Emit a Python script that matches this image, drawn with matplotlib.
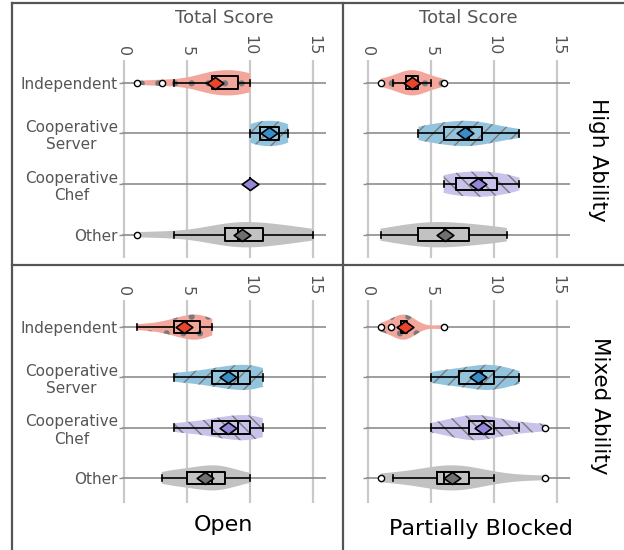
import numpy as np
import matplotlib.pyplot as plt
from matplotlib.lines import Line2D
from matplotlib.path import Path

plt.rcParams["font.family"] = "DejaVu Sans"
plt.rcParams["hatch.linewidth"] = 1.0

CATEGORIES = ["Independent", "Cooperative\nServer", "Cooperative\nChef", "Other"]
VIOLIN_COLORS = ["#f3a79c", "#93c4de", "#c9c2ea", "#c2c2c2"]
MEAN_COLORS = ["#e8452c", "#3a8ec8", "#9486d8", "#6f6f6f"]
HATCHES = [".", "//", "\\\\", ""]
HATCH_WIDTHS = [2.0, 1.0, 1.0, 1.0]
HATCH_COLOR = "#7a7a7a"
TEXT_GREY = "#555555"

# total scores per strategy: Independent, Coop Server, Coop Chef, Other
HIGH_OPEN = [
    [1, 3, 4, 6, 7, 7, 7, 7, 7, 8, 9, 9, 9, 9, 10, 10, 10],
    [10, 11, 12, 13],
    [10],
    [1, 4, 8, 8, 8, 9, 9, 11, 11, 11, 13, 14, 15],
]
HIGH_BLOCKED = [
    [1, 2, 3, 3, 3, 4, 4, 4, 5, 6],
    [4, 5, 6, 7, 8, 8, 9, 10, 12],
    [6, 6, 7, 7, 8, 9, 9, 9, 10, 11, 11, 12],
    [1, 3, 4, 5, 6, 7, 8, 10, 11],
]
MIXED_OPEN = [
    [1, 3, 4, 5, 5, 6, 6, 6, 7],
    [4, 5, 7, 7, 8, 9, 9, 10, 10, 11, 11],
    [4, 5, 7, 7, 8, 9, 9, 10, 10, 11, 11],
    [3, 4, 5, 6, 7, 7, 8, 8, 10],
]
MIXED_BLOCKED = [
    [1, 1.8, 2.6, 2.8, 3, 3, 3.1, 3.1, 6],
    [5, 6, 7, 8, 9, 9, 10, 10, 11, 12],
    [5, 7, 8, 8, 9, 9, 10, 12, 14],
    [1, 2, 5, 6, 6, 6, 7, 8, 8, 10, 14],
]
X_TICKS = [0, 5, 10, 15]

DIAMOND = Path([(-1, 0), (0, 0.72), (1, 0), (0, -0.72), (-1, 0)],
               [Path.MOVETO, Path.LINETO, Path.LINETO, Path.LINETO, Path.CLOSEPOLY])

W, H = 624, 550


def draw_panel(ax, groups, show_labels, show_title, ylim):
    positions = np.arange(len(groups))
    for pos, scores, face, hatch, hlw in zip(positions, groups, VIOLIN_COLORS,
                                              HATCHES, HATCH_WIDTHS):
        if len(set(scores)) < 2:
            continue
        with plt.rc_context({"hatch.linewidth": hlw}):
            parts = ax.violinplot([scores], positions=[pos], orientation="horizontal",
                                  widths=0.5, showextrema=False)
        body = parts["bodies"][0]
        body.set_alpha(1)
        body.set_facecolor(face)
        body.set_edgecolor(HATCH_COLOR)
        body.set_linewidth(0)
        body.set_hatch(hatch)
        body.set_zorder(2)

    ax.boxplot(groups, positions=positions, orientation="horizontal", widths=0.25,
               manage_ticks=False, zorder=3,
               boxprops=dict(color="black", linewidth=1.4),
               medianprops=dict(color="black", linewidth=1.4),
               whiskerprops=dict(color="black", linewidth=1.2),
               capprops=dict(color="black", linewidth=1.2),
               flierprops=dict(marker="o", markersize=4.5, markerfacecolor="white",
                               markeredgecolor="black", markeredgewidth=1.0))

    for pos, scores, col in zip(positions, groups, MEAN_COLORS):
        ax.plot(np.mean(scores), pos, marker=DIAMOND, markersize=12, markerfacecolor=col,
                markeredgecolor="black", markeredgewidth=1.2, zorder=5)

    ax.set_xlim(-0.15, 16)
    ax.set_ylim(*ylim)
    ax.set_xticks(X_TICKS)
    ax.set_yticks(positions)
    ax.set_yticklabels(CATEGORIES if show_labels else [])
    for lbl in ax.get_yticklabels():
        lbl.set_multialignment("center")
    ax.xaxis.tick_top()
    ax.tick_params(axis="x", length=0, pad=3, labelsize=11.5, labelcolor=TEXT_GREY,
                   labelrotation=-90)
    ax.tick_params(axis="y", length=2, width=1, color="#8e8e8e", pad=1,
                   labelsize=11, labelcolor=TEXT_GREY)
    ax.set_axisbelow(True)
    ax.xaxis.grid(True, color="#c9c9c9", linewidth=1.6)
    ax.yaxis.grid(True, color="#8e8e8e", linewidth=1.2)
    for sp in ax.spines.values():
        sp.set_visible(False)
    if show_title:
        ax.xaxis.set_label_position("top")
        ax.set_xlabel("Total Score", fontsize=13, color=TEXT_GREY, labelpad=9)


fig = plt.figure(figsize=(W / 100, H / 100), dpi=100)

left_x, right_x, ax_w = 122 / W, 366 / W, 204 / W
top_y, top_h = 1 - 258 / H, 198 / H
bot_y, bot_h = 1 - 503 / H, 203 / H

ax_tl = fig.add_axes([left_x, top_y, ax_w, top_h])
ax_tr = fig.add_axes([right_x, top_y, ax_w, top_h])
ax_bl = fig.add_axes([left_x, bot_y, ax_w, bot_h])
ax_br = fig.add_axes([right_x, bot_y, ax_w, bot_h])

draw_panel(ax_tl, HIGH_OPEN, True, True, (3.46, -0.45))
draw_panel(ax_tr, HIGH_BLOCKED, False, True, (3.46, -0.45))
draw_panel(ax_bl, MIXED_OPEN, True, False, (3.5, -0.54))
draw_panel(ax_br, MIXED_BLOCKED, False, False, (3.5, -0.54))

# column / row captions
fig.text(223 / W, 1 - 525 / H, "Open", ha="center", va="center", fontsize=16)
fig.text(481 / W, 1 - 529 / H, "Partially Blocked", ha="center", va="center", fontsize=16)
fig.text(598 / W, 1 - 160 / H, "High Ability", ha="center", va="center", rotation=-90,
         fontsize=15.5)
fig.text(600 / W, 1 - 406 / H, "Mixed Ability", ha="center", va="center", rotation=-90,
         fontsize=15.5)

# panel frame lines
frame = dict(color="#555555", linewidth=1.6, transform=fig.transFigure)
fig.add_artist(Line2D([12 / W, 1], [1 - 3 / H, 1 - 3 / H], **frame))
fig.add_artist(Line2D([12 / W, 1], [1 - 265 / H, 1 - 265 / H], **frame))
fig.add_artist(Line2D([12 / W, 12 / W], [0, 1 - 3 / H], **frame))
fig.add_artist(Line2D([343 / W, 343 / W], [0, 1 - 3 / H], **frame))

fig.savefig("out.png", dpi=100)
